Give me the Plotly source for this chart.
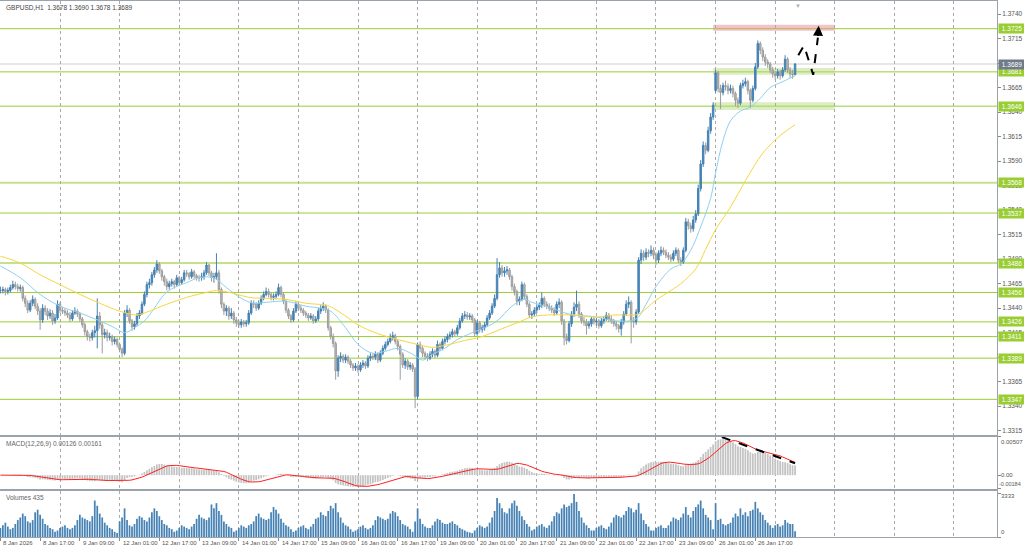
import plotly.graph_objects as go
import pandas as pd

# ---------------- data ----------------
opens = [
1.3458,1.3458,1.3459,1.3457,1.3458,1.3461,1.3464,1.3462,1.3460,1.3461,
1.3450,1.3445,1.3438,1.3445,1.3449,1.3442,1.3437,1.3428,1.3440,1.3437,
1.3432,1.3435,1.3427,1.3430,1.3444,1.3438,1.3437,1.3435,1.3433,1.3429,
1.3435,1.3437,1.3434,1.3429,1.3423,1.3416,1.3411,1.3410,1.3415,1.3417,
1.3432,1.3423,1.3413,1.3415,1.3410,1.3411,1.3406,1.3408,1.3403,1.3398,
1.3394,1.3435,1.3438,1.3427,1.3421,1.3424,1.3432,1.3435,1.3444,1.3454,
1.3464,1.3466,1.3474,1.3479,1.3485,1.3478,1.3472,1.3467,1.3462,1.3465,
1.3467,1.3464,1.3471,1.3466,1.3469,1.3476,1.3475,1.3472,1.3477,1.3473,
1.3471,1.3471,1.3472,1.3476,1.3484,1.3476,1.3471,1.3472,1.3476,1.3459,
1.3444,1.3437,1.3440,1.3432,1.3435,1.3428,1.3425,1.3423,1.3426,1.3424,
1.3425,1.3435,1.3445,1.3444,1.3440,1.3445,1.3450,1.3454,1.3457,1.3454,
1.3451,1.3452,1.3454,1.3461,1.3454,1.3447,1.3438,1.3432,1.3428,1.3437,
1.3444,1.3440,1.3438,1.3435,1.3433,1.3430,1.3432,1.3427,1.3429,1.3437,
1.3440,1.3442,1.3438,1.3420,1.3411,1.3404,1.3376,1.3389,1.3391,1.3387,
1.3390,1.3386,1.3382,1.3379,1.3381,1.3377,1.3382,1.3384,1.3381,1.3389,
1.3391,1.3390,1.3393,1.3387,1.3394,1.3399,1.3403,1.3406,1.3410,1.3412,
1.3406,1.3401,1.3393,1.3382,1.3386,1.3380,1.3382,1.3378,1.3350,1.3403,
1.3399,1.3394,1.3391,1.3389,1.3393,1.3396,1.3392,1.3403,1.3399,1.3406,
1.3408,1.3411,1.3413,1.3416,1.3414,1.3420,1.3427,1.3432,1.3433,1.3431,
1.3432,1.3428,1.3414,1.3425,1.3418,1.3420,1.3423,1.3430,1.3435,1.3442,
1.3450,1.3474,1.3481,1.3476,1.3478,1.3479,1.3472,1.3462,1.3457,1.3447,
1.3449,1.3464,1.3452,1.3444,1.3433,1.3434,1.3438,1.3441,1.3443,1.3450,
1.3444,1.3442,1.3440,1.3438,1.3435,1.3444,1.3446,1.3427,1.3410,1.3407,
1.3424,1.3434,1.3441,1.3444,1.3434,1.3427,1.3426,1.3422,1.3424,1.3429,
1.3426,1.3427,1.3422,1.3427,1.3429,1.3433,1.3429,1.3427,1.3424,1.3422,
1.3419,1.3426,1.3434,1.3444,1.3446,1.3427,1.3426,1.3436,1.3489,1.3496,
1.3492,1.3497,1.3496,1.3499,1.3494,1.3489,1.3496,1.3499,1.3497,1.3494,
1.3492,1.3490,1.3496,1.3499,1.3489,1.3487,1.3499,1.3528,1.3524,1.3521,
1.3530,1.3536,1.3562,1.3587,1.3606,1.3601,1.3621,1.3635,1.3662,1.3680,
1.3664,1.3660,1.3667,1.3666,1.3662,1.3664,1.3659,1.3652,1.3649,1.3667,
1.3669,1.3671,1.3662,1.3652,1.3664,1.3686,1.3710,1.3703,1.3696,1.3691,
1.3689,1.3683,1.3679,1.3677,1.3681,1.3677,1.3683,1.3694,1.3683,1.3679,1.3678]

highs = [
1.3462,1.3462,1.3461,1.3461,1.3464,1.3468,1.3467,1.3465,1.3464,1.3463,
1.3453,1.3448,1.3448,1.3453,1.3451,1.3445,1.3440,1.3444,1.3443,1.3440,
1.3439,1.3438,1.3434,1.3448,1.3446,1.3441,1.3440,1.3438,1.3436,1.3438,
1.3441,1.3439,1.3436,1.3431,1.3425,1.3418,1.3414,1.3418,1.3422,1.3450,
1.3436,1.3426,1.3419,1.3418,1.3415,1.3413,1.3411,1.3410,1.3405,1.3400,
1.3438,1.3443,1.3440,1.3429,1.3427,1.3435,1.3438,1.3447,1.3457,1.3467,
1.3470,1.3477,1.3482,1.3489,1.3487,1.3480,1.3474,1.3470,1.3468,1.3470,
1.3469,1.3474,1.3473,1.3472,1.3479,1.3479,1.3477,1.3480,1.3479,1.3475,
1.3474,1.3476,1.3479,1.3487,1.3485,1.3478,1.3476,1.3496,1.3479,1.3461,
1.3446,1.3443,1.3442,1.3440,1.3437,1.3431,1.3428,1.3429,1.3428,1.3428,
1.3438,1.3448,1.3448,1.3446,1.3448,1.3453,1.3457,1.3461,1.3460,1.3456,
1.3455,1.3457,1.3465,1.3463,1.3456,1.3449,1.3440,1.3434,1.3440,1.3447,
1.3446,1.3443,1.3440,1.3437,1.3435,1.3435,1.3434,1.3432,1.3440,1.3443,
1.3446,1.3444,1.3440,1.3422,1.3414,1.3406,1.3392,1.3395,1.3393,1.3393,
1.3392,1.3388,1.3384,1.3384,1.3383,1.3385,1.3387,1.3386,1.3392,1.3394,
1.3394,1.3396,1.3395,1.3397,1.3402,1.3406,1.3409,1.3414,1.3416,1.3414,
1.3408,1.3403,1.3395,1.3389,1.3388,1.3385,1.3384,1.3380,1.3405,1.3406,
1.3401,1.3396,1.3394,1.3396,1.3399,1.3398,1.3407,1.3405,1.3409,1.3411,
1.3414,1.3416,1.3419,1.3418,1.3423,1.3430,1.3435,1.3437,1.3436,1.3435,
1.3434,1.3430,1.3428,1.3427,1.3423,1.3426,1.3433,1.3438,1.3445,1.3454,
1.3491,1.3487,1.3484,1.3482,1.3483,1.3481,1.3474,1.3465,1.3459,1.3452,
1.3467,1.3466,1.3454,1.3446,1.3437,1.3441,1.3444,1.3446,1.3456,1.3452,
1.3447,1.3445,1.3443,1.3441,1.3447,1.3450,1.3448,1.3429,1.3414,1.3427,
1.3437,1.3446,1.3458,1.3447,1.3436,1.3431,1.3429,1.3427,1.3432,1.3432,
1.3430,1.3429,1.3430,1.3432,1.3436,1.3435,1.3432,1.3429,1.3427,1.3424,
1.3429,1.3437,1.3448,1.3452,1.3448,1.3431,1.3439,1.3492,1.3500,1.3499,
1.3501,1.3500,1.3504,1.3502,1.3497,1.3499,1.3503,1.3502,1.3500,1.3497,
1.3495,1.3499,1.3502,1.3501,1.3492,1.3502,1.3532,1.3531,1.3527,1.3534,
1.3540,1.3566,1.3591,1.3610,1.3609,1.3625,1.3639,1.3650,1.3683,1.3682,
1.3668,1.3670,1.3672,1.3669,1.3668,1.3667,1.3661,1.3655,1.3670,1.3673,
1.3675,1.3673,1.3664,1.3667,1.3690,1.3713,1.3712,1.3706,1.3699,1.3694,
1.3691,1.3686,1.3682,1.3684,1.3683,1.3686,1.3698,1.3696,1.3686,1.3683,1.3690]

lows = [
1.3455,1.3455,1.3453,1.3454,1.3456,1.3459,1.3459,1.3457,1.3457,1.3447,
1.3441,1.3435,1.3436,1.3442,1.3439,1.3433,1.3418,1.3425,1.3433,1.3428,
1.3429,1.3423,1.3424,1.3428,1.3435,1.3434,1.3432,1.3430,1.3426,1.3427,
1.3433,1.3431,1.3426,1.3420,1.3412,1.3407,1.3406,1.3407,1.3410,1.3399,
1.3419,1.3394,1.3409,1.3406,1.3407,1.3402,1.3403,1.3400,1.3395,1.3390,
1.3392,1.3431,1.3424,1.3417,1.3418,1.3422,1.3429,1.3433,1.3442,1.3451,
1.3460,1.3463,1.3471,1.3476,1.3475,1.3468,1.3463,1.3458,1.3459,1.3462,
1.3460,1.3462,1.3463,1.3464,1.3467,1.3472,1.3469,1.3470,1.3470,1.3468,
1.3467,1.3468,1.3469,1.3474,1.3473,1.3467,1.3466,1.3469,1.3455,1.3440,
1.3433,1.3432,1.3428,1.3429,1.3424,1.3421,1.3420,1.3420,1.3421,1.3421,
1.3423,1.3433,1.3440,1.3437,1.3438,1.3443,1.3448,1.3452,1.3451,1.3448,
1.3448,1.3449,1.3452,1.3451,1.3444,1.3435,1.3429,1.3425,1.3426,1.3435,
1.3437,1.3435,1.3432,1.3430,1.3427,1.3428,1.3424,1.3425,1.3427,1.3434,
1.3437,1.3435,1.3417,1.3408,1.3400,1.3367,1.3370,1.3385,1.3384,1.3384,
1.3383,1.3379,1.3376,1.3376,1.3374,1.3375,1.3379,1.3378,1.3379,1.3386,
1.3387,1.3387,1.3384,1.3385,1.3392,1.3397,1.3401,1.3404,1.3407,1.3403,
1.3397,1.3367,1.3379,1.3378,1.3377,1.3377,1.3375,1.3338,1.3347,1.3395,
1.3390,1.3388,1.3386,1.3387,1.3390,1.3389,1.3390,1.3396,1.3397,1.3403,
1.3405,1.3408,1.3410,1.3411,1.3412,1.3418,1.3425,1.3429,1.3428,1.3428,
1.3425,1.3411,1.3412,1.3415,1.3415,1.3417,1.3421,1.3428,1.3433,1.3440,
1.3448,1.3471,1.3472,1.3472,1.3474,1.3469,1.3458,1.3453,1.3443,1.3443,
1.3447,1.3449,1.3441,1.3430,1.3429,1.3431,1.3435,1.3438,1.3440,1.3441,
1.3439,1.3437,1.3435,1.3432,1.3433,1.3440,1.3423,1.3402,1.3403,1.3405,
1.3421,1.3431,1.3437,1.3430,1.3424,1.3422,1.3413,1.3419,1.3421,1.3423,
1.3422,1.3419,1.3420,1.3424,1.3427,1.3426,1.3424,1.3421,1.3418,1.3415,
1.3412,1.3423,1.3432,1.3440,1.3404,1.3420,1.3423,1.3434,1.3485,1.3488,
1.3489,1.3492,1.3493,1.3490,1.3484,1.3486,1.3493,1.3494,1.3491,1.3489,
1.3487,1.3488,1.3493,1.3486,1.3483,1.3485,1.3497,1.3520,1.3517,1.3518,
1.3527,1.3534,1.3559,1.3584,1.3597,1.3599,1.3618,1.3632,1.3660,1.3660,
1.3643,1.3657,1.3662,1.3658,1.3659,1.3655,1.3646,1.3644,1.3647,1.3664,
1.3666,1.3658,1.3644,1.3650,1.3662,1.3684,1.3699,1.3692,1.3687,1.3685,
1.3680,1.3675,1.3673,1.3674,1.3673,1.3675,1.3681,1.3680,1.3675,1.3674,1.3678]

closes = [
1.3458,1.3459,1.3457,1.3458,1.3461,1.3464,1.3462,1.3460,1.3461,1.3450,
1.3445,1.3438,1.3445,1.3449,1.3442,1.3437,1.3428,1.3440,1.3437,1.3432,
1.3435,1.3427,1.3430,1.3444,1.3438,1.3437,1.3435,1.3433,1.3429,1.3435,
1.3437,1.3434,1.3429,1.3423,1.3416,1.3411,1.3410,1.3415,1.3417,1.3432,
1.3423,1.3413,1.3415,1.3410,1.3411,1.3406,1.3408,1.3403,1.3398,1.3394,
1.3435,1.3438,1.3427,1.3421,1.3424,1.3432,1.3435,1.3444,1.3454,1.3464,
1.3466,1.3474,1.3479,1.3485,1.3478,1.3472,1.3467,1.3462,1.3465,1.3467,
1.3464,1.3471,1.3466,1.3469,1.3476,1.3475,1.3472,1.3477,1.3473,1.3471,
1.3471,1.3472,1.3476,1.3484,1.3476,1.3471,1.3472,1.3476,1.3459,1.3444,
1.3437,1.3440,1.3432,1.3435,1.3428,1.3425,1.3423,1.3426,1.3424,1.3425,
1.3435,1.3445,1.3444,1.3440,1.3445,1.3450,1.3454,1.3457,1.3454,1.3451,
1.3452,1.3454,1.3461,1.3454,1.3447,1.3438,1.3432,1.3428,1.3437,1.3444,
1.3440,1.3438,1.3435,1.3433,1.3430,1.3432,1.3427,1.3429,1.3437,1.3440,
1.3442,1.3438,1.3420,1.3411,1.3404,1.3376,1.3389,1.3391,1.3387,1.3390,
1.3386,1.3382,1.3379,1.3381,1.3377,1.3382,1.3384,1.3381,1.3389,1.3391,
1.3390,1.3393,1.3387,1.3394,1.3399,1.3403,1.3406,1.3410,1.3412,1.3406,
1.3401,1.3393,1.3382,1.3386,1.3380,1.3382,1.3378,1.3350,1.3403,1.3399,
1.3394,1.3391,1.3389,1.3393,1.3396,1.3392,1.3403,1.3399,1.3406,1.3408,
1.3411,1.3413,1.3416,1.3414,1.3420,1.3427,1.3432,1.3433,1.3431,1.3432,
1.3428,1.3414,1.3425,1.3418,1.3420,1.3423,1.3430,1.3435,1.3442,1.3450,
1.3474,1.3481,1.3476,1.3478,1.3479,1.3472,1.3462,1.3457,1.3447,1.3449,
1.3464,1.3452,1.3444,1.3433,1.3434,1.3438,1.3441,1.3443,1.3450,1.3444,
1.3442,1.3440,1.3438,1.3435,1.3444,1.3446,1.3427,1.3410,1.3407,1.3424,
1.3434,1.3441,1.3444,1.3434,1.3427,1.3426,1.3422,1.3424,1.3429,1.3426,
1.3427,1.3422,1.3427,1.3429,1.3433,1.3429,1.3427,1.3424,1.3422,1.3419,
1.3426,1.3434,1.3444,1.3446,1.3427,1.3426,1.3436,1.3489,1.3496,1.3492,
1.3497,1.3496,1.3499,1.3494,1.3489,1.3496,1.3499,1.3497,1.3494,1.3492,
1.3490,1.3496,1.3499,1.3489,1.3487,1.3499,1.3528,1.3524,1.3521,1.3530,
1.3536,1.3562,1.3587,1.3606,1.3601,1.3621,1.3635,1.3647,1.3680,1.3664,
1.3660,1.3667,1.3666,1.3662,1.3664,1.3659,1.3652,1.3649,1.3667,1.3669,
1.3671,1.3662,1.3652,1.3664,1.3686,1.3710,1.3703,1.3696,1.3691,1.3689,
1.3683,1.3679,1.3677,1.3681,1.3677,1.3683,1.3694,1.3683,1.3679,1.3678,1.3689]

volumes = [
700,900,1100,800,600,700,1000,1300,1500,1800,
1600,1200,1100,1300,1900,2100,1700,1400,1000,900,
700,600,400,500,700,800,900,700,600,700,
900,1300,1700,1500,1400,1300,1200,1600,2800,2400,
1800,1500,1100,900,700,600,400,300,1200,1500,
2200,1300,900,800,1000,1400,1600,1500,1300,1200,
1500,1900,2200,2000,1600,1300,1000,900,700,600,
400,500,700,900,800,700,600,800,1000,1400,
1700,1500,1400,1300,1500,2500,2200,2600,2000,1700,
1200,1000,800,700,400,500,700,900,800,700,
900,1000,1200,1600,1800,1500,1400,1300,1400,1900,
2300,2100,1800,1400,1100,900,800,600,400,500,
700,800,900,700,600,800,1000,1400,1500,1900,
1700,1600,2000,2400,2200,2600,1900,1500,1100,900,
800,600,400,500,600,800,900,700,600,700,
900,1300,1600,1500,1400,1300,1400,1800,2000,1900,
1600,1300,1000,900,800,600,400,1200,2200,1400,
1000,800,700,700,900,1200,1400,1300,1100,1000,
1000,1100,1200,1000,900,700,600,500,400,350,
300,500,700,900,800,700,800,1100,1500,2000,
3000,2600,2200,1900,1800,2200,2600,2800,2400,2000,
1600,1300,1000,800,500,600,800,900,1000,800,
700,900,1200,1600,1900,1800,2200,2500,2300,2400,
2600,3300,2700,2000,1500,1100,900,700,500,500,
700,800,900,700,600,800,1100,1500,1700,1600,
1500,1700,2000,2300,2200,1900,2100,2600,1800,1300,
1000,800,500,500,700,800,900,700,700,900,
1200,1500,1400,1300,1500,1800,2300,1700,1500,2000,
2300,2500,2800,2200,1700,1500,1300,600,2600,1300,
1400,1000,900,1000,1100,1500,1800,1600,2200,1700,
1900,1600,2000,2100,2700,2200,1900,1700,1300,1100,
900,700,900,1000,800,900,1300,1100,1000,1000,435]

# moving averages (bar index, price)
fast_ma_bars = [0, 8, 16, 24, 32, 40, 46, 50, 54, 58, 62, 66, 70, 75, 80, 86, 91, 97, 102, 107,
                115, 123, 129, 133, 139, 144, 150, 155, 160, 166, 170, 174, 179, 184, 190, 195,
                200, 206, 211, 214, 221, 229, 240, 248, 256, 260, 264, 270, 274, 278, 282, 286,
                288, 291, 294, 298, 302, 306, 310, 315, 320]
fast_ma_values = [1.3483, 1.3471, 1.3454, 1.3442, 1.3435, 1.3427, 1.3420, 1.3415, 1.3420, 1.3427,
                  1.3440, 1.3454, 1.3461, 1.3466, 1.3471, 1.3471, 1.3461, 1.3450, 1.3445, 1.3446,
                  1.3447, 1.3442, 1.3440, 1.3437, 1.3420, 1.3403, 1.3394, 1.3396, 1.3399, 1.3393,
                  1.3387, 1.3393, 1.3399, 1.3408, 1.3415, 1.3420, 1.3427, 1.3442, 1.3449, 1.3446,
                  1.3441, 1.3434, 1.3431, 1.3427, 1.3429, 1.3444, 1.3462, 1.3480, 1.3485, 1.3499,
                  1.3523, 1.3552, 1.3578, 1.3611, 1.3631, 1.3641, 1.3645, 1.3654, 1.3665, 1.3671,
                  1.3677]
slow_ma_bars = [0, 8, 16, 24, 32, 40, 48, 55, 59, 67, 75, 83, 87, 94, 100, 107, 115, 123, 131,
                134, 139, 144, 152, 160, 168, 174, 179, 187, 194, 200, 208, 214, 220, 230, 240,
                247, 254, 257, 264, 270, 274, 280, 284, 288, 294, 300, 307, 314, 320]
slow_ma_values = [1.3493, 1.3486, 1.3474, 1.3464, 1.3454, 1.3445, 1.3437, 1.3433, 1.3436, 1.3444,
                  1.3451, 1.3456, 1.3458, 1.3455, 1.3451, 1.3450, 1.3449, 1.3445, 1.3443, 1.3440,
                  1.3432, 1.3423, 1.3414, 1.3408, 1.3403, 1.3400, 1.3402, 1.3407, 1.3411, 1.3417,
                  1.3425, 1.3431, 1.3433, 1.3433, 1.3431, 1.3433, 1.3433, 1.3434, 1.3448, 1.3458,
                  1.3465, 1.3480, 1.3500, 1.3520, 1.3543, 1.3570, 1.3598, 1.3616, 1.3627]

x_label_bars = [0, 16, 32, 48, 64, 80, 96, 112, 128, 144, 160, 176, 192, 208, 224, 240, 256, 272, 288, 304]
x_labels = ["8 Jan 2026", "8 Jan 17:00", "9 Jan 09:00", "12 Jan 01:00", "12 Jan 17:00",
            "13 Jan 09:00", "14 Jan 01:00", "14 Jan 17:00", "15 Jan 09:00", "16 Jan 01:00",
            "16 Jan 17:00", "19 Jan 09:00", "20 Jan 01:00", "20 Jan 17:00", "21 Jan 09:00",
            "22 Jan 01:00", "22 Jan 17:00", "23 Jan 09:00", "26 Jan 01:00", "26 Jan 17:00"]
price_ticks = [1.3315, 1.3340, 1.3365, 1.3390, 1.3415, 1.3440, 1.3465, 1.3490, 1.3515,
               1.3540, 1.3565, 1.3590, 1.3615, 1.3640, 1.3665, 1.3690, 1.3715, 1.3740]
levels = [1.3725, 1.3681, 1.3646, 1.3568, 1.3537, 1.3486, 1.3456, 1.3426, 1.3411, 1.3389, 1.3347]
soft_levels = [1.3568, 1.3486]
current_price = 1.3689
zone_bars = [287, 336]
zone_low = [1.3723, 1.3678, 1.3642]
zone_high = [1.3729, 1.3685, 1.3650]
zone_colors = ["rgba(226,150,150,0.55)", "rgba(178,216,120,0.45)", "rgba(178,216,120,0.45)"]
projection_bars = [321.3, 323.6, 327.3, 329.2]
projection_prices = [1.3698, 1.3708, 1.3678, 1.3716]
projection_head = [329.5, 1.3728]
macd_trend_bars = [290.5, 320]
macd_trend_values = [0.00505, 0.00158]
macd_scale = [-0.00184, 0.00507]
volume_top_label = 3333
title_text = "GBPUSD,H1  1.3678 1.3690 1.3678 1.3689"
macd_text = "MACD(12,26,9) 0.00126 0.00161"
volume_text = "Volumes 435"

# ---------------- derived indicator ----------------
idx = list(range(len(closes)))
cs = pd.Series(closes)
macd_main = cs.ewm(span=12, adjust=False).mean() - cs.ewm(span=26, adjust=False).mean()
macd_signal = macd_main.rolling(9, min_periods=1).mean()

# ---------------- styling ----------------
FONT = "Liberation Sans, Arial, sans-serif"
AX = "#9aa2ab"
GRID = "#a9a9a9"
TXT = "#555555"
x_range = [-0.161, 401.32]
day_grid = list(range(24, 401, 24))

fig = go.Figure()
fig.add_trace(go.Candlestick(
    x=idx, open=opens, high=highs, low=lows, close=closes,
    increasing=dict(line=dict(color="#4682B4", width=1), fillcolor="#4682B4"),
    decreasing=dict(line=dict(color="#9c9c9c", width=1), fillcolor="#bcbcbc"),
    whiskerwidth=0, xaxis="x", yaxis="y", hoverinfo="skip", showlegend=False))
fig.add_trace(go.Scatter(x=fast_ma_bars, y=fast_ma_values, mode="lines", line_shape="spline",
                         line=dict(color="#8fd0f0", width=1), xaxis="x", yaxis="y", hoverinfo="skip"))
fig.add_trace(go.Scatter(x=slow_ma_bars, y=slow_ma_values, mode="lines", line_shape="spline",
                         line=dict(color="#f7d640", width=1), xaxis="x", yaxis="y", hoverinfo="skip"))
fig.add_trace(go.Scatter(x=projection_bars, y=projection_prices, mode="lines",
                         line=dict(color="black", width=2, dash="dash"), xaxis="x", yaxis="y", hoverinfo="skip"))

fig.add_trace(go.Bar(x=idx, y=macd_main, marker=dict(color="#c3c3c3", line_width=0),
                     xaxis="x2", yaxis="y2", hoverinfo="skip"))
fig.add_trace(go.Scatter(x=idx, y=macd_signal, mode="lines", line=dict(color="#ff2020", width=1),
                         xaxis="x2", yaxis="y2", hoverinfo="skip"))
fig.add_trace(go.Scatter(x=macd_trend_bars, y=macd_trend_values, mode="lines",
                         line=dict(color="black", width=2, dash="dash"), xaxis="x2", yaxis="y2", hoverinfo="skip"))

fig.add_trace(go.Bar(x=idx, y=volumes, marker=dict(color="#4682B4", line_width=0),
                     xaxis="x3", yaxis="y3", hoverinfo="skip"))

xbase = dict(range=x_range, showgrid=True, gridcolor=GRID, griddash="dot", gridwidth=1,
             tickmode="array", tickvals=day_grid, showticklabels=False, ticks="",
             showline=True, linecolor=AX, linewidth=1, mirror=True, zeroline=False, fixedrange=True)
ybase = dict(side="right", showgrid=False, zeroline=False, showline=True, linecolor=AX,
             linewidth=1, mirror=True, ticks="outside", ticklen=3, tickcolor="#8a8a8a",
             tickfont=dict(family=FONT, size=6.5, color=TXT), fixedrange=True)

main_dom = [0.1903, 1.0]
macd_dom = [0.0896, 0.1866]
vol_dom = [0.0, 0.0858]

fig.update_layout(
    width=1024, height=551,
    margin=dict(l=0, r=27, t=1, b=14),
    paper_bgcolor="white", plot_bgcolor="white",
    showlegend=False, hovermode=False, bargap=0.3, boxgap=0.15,
    font=dict(family=FONT, size=6.5, color=TXT),
    xaxis=dict(xbase, anchor="y", rangeslider=dict(visible=False)),
    xaxis2=dict(xbase, anchor="y2", matches="x"),
    xaxis3=dict(xbase, anchor="y3", matches="x",
                minor=dict(tickmode="array", tickvals=x_label_bars, ticks="outside",
                           ticklen=3, tickcolor="#8a8a8a", showgrid=False)),
    yaxis=dict(ybase, domain=main_dom, range=[1.331063, 1.375326], anchor="x",
               tickmode="array", tickvals=price_ticks,
               ticktext=[f"{v:.4f}" for v in price_ticks]),
    yaxis2=dict(ybase, domain=macd_dom, range=macd_scale, anchor="x2",
                tickmode="array", tickvals=[macd_scale[1], 0, macd_scale[0]], showticklabels=False),
    yaxis3=dict(ybase, domain=vol_dom, range=[0, volume_top_label * 1.06], anchor="x3",
                tickmode="array", tickvals=[volume_top_label, 0], showticklabels=False),
)

shapes = []
for lo, hi, col in zip(zone_low, zone_high, zone_colors):
    shapes.append(dict(type="rect", xref="x", yref="y", x0=zone_bars[0], x1=zone_bars[1],
                       y0=lo, y1=hi, fillcolor=col, line_width=0, layer="below"))
for lv in levels:
    soft = lv in soft_levels
    shapes.append(dict(type="line", xref="x domain", yref="y", x0=0, x1=1, y0=lv, y1=lv,
                       line=dict(color="#c4e28c" if soft else "#9acd32", width=2 if soft else 1),
                       layer="below"))
shapes.append(dict(type="line", xref="x domain", yref="y", x0=0, x1=1, y0=current_price,
                   y1=current_price, line=dict(color="#cfcfcf", width=1), layer="below"))
fig.update_layout(shapes=shapes)

small = dict(family=FONT, size=6, color=TXT)
ann = []
for b, t in zip(x_label_bars, x_labels):
    ann.append(dict(x=b, xref="x3", y=0, yref="paper", yanchor="top", xanchor="left",
                    xshift=1, yshift=-1, text=t, showarrow=False, font=small))
for lv in levels:
    ann.append(dict(x=1, xref="paper", y=lv, yref="y", xanchor="left", yanchor="middle",
                    xshift=1, text=f"{lv:.4f}", showarrow=False, bgcolor="#9acd32",
                    borderpad=1, width=24, font=dict(family=FONT, size=6.5, color="white")))
ann.append(dict(x=1, xref="paper", y=current_price, yref="y", xanchor="left", yanchor="middle",
                xshift=1, text=f"{current_price:.4f}", showarrow=False, bgcolor="#6f7b88",
                borderpad=1, width=24, font=dict(family=FONT, size=6.5, color="white")))
# MACD / volume scale labels
ann.append(dict(x=1, xref="paper", y=macd_scale[1], yref="y2", xanchor="left", yanchor="top",
                xshift=2, text=f"{macd_scale[1]:.5f}", showarrow=False, font=small))
ann.append(dict(x=1, xref="paper", y=0, yref="y2", xanchor="left", yanchor="middle",
                xshift=2, text="0.00", showarrow=False, font=small))
ann.append(dict(x=1, xref="paper", y=macd_scale[0], yref="y2", xanchor="left", yanchor="bottom",
                xshift=0, text=f"{macd_scale[0]:.5f}", showarrow=False, font=dict(family=FONT, size=5.5, color=TXT)))
ann.append(dict(x=1, xref="paper", y=volume_top_label * 1.06, yref="y3", xanchor="left", yanchor="top",
                xshift=2, text=str(volume_top_label), showarrow=False, font=small))
ann.append(dict(x=1, xref="paper", y=0, yref="y3", xanchor="left", yanchor="bottom",
                xshift=2, text="0", showarrow=False, font=small))
# panel captions
ann.append(dict(x=0, xref="paper", y=1, yref="paper", xanchor="left", yanchor="top",
                xshift=4, yshift=-1, text=title_text, showarrow=False, font=dict(family=FONT, size=6.5, color="#444")))
ann.append(dict(x=0, xref="paper", y=macd_dom[1], yref="paper", xanchor="left", yanchor="top",
                xshift=4, yshift=-1, text=macd_text, showarrow=False, font=dict(family=FONT, size=6.5, color="#666")))
ann.append(dict(x=0, xref="paper", y=vol_dom[1], yref="paper", xanchor="left", yanchor="top",
                xshift=4, yshift=-1, text=volume_text, showarrow=False, font=dict(family=FONT, size=6.5, color="#666")))
# projection arrow head
ann.append(dict(x=projection_head[0], y=projection_head[1], xref="x", yref="y",
                ax=projection_bars[-1], ay=projection_prices[-1], axref="x", ayref="y",
                showarrow=True, arrowhead=2, arrowsize=1, arrowwidth=2, arrowcolor="black", text=""))
# chart-shift marker
ann.append(dict(x=321, xref="x", y=1, yref="paper", yanchor="top", text="▼", showarrow=False,
                font=dict(size=6, color="#b0b0b0")))
fig.update_layout(annotations=ann)

fig.write_html("out.html", include_plotlyjs=True, full_html=True,
               config={"displayModeBar": False, "staticPlot": True},
               post_script="document.body.style.margin='0px';")
